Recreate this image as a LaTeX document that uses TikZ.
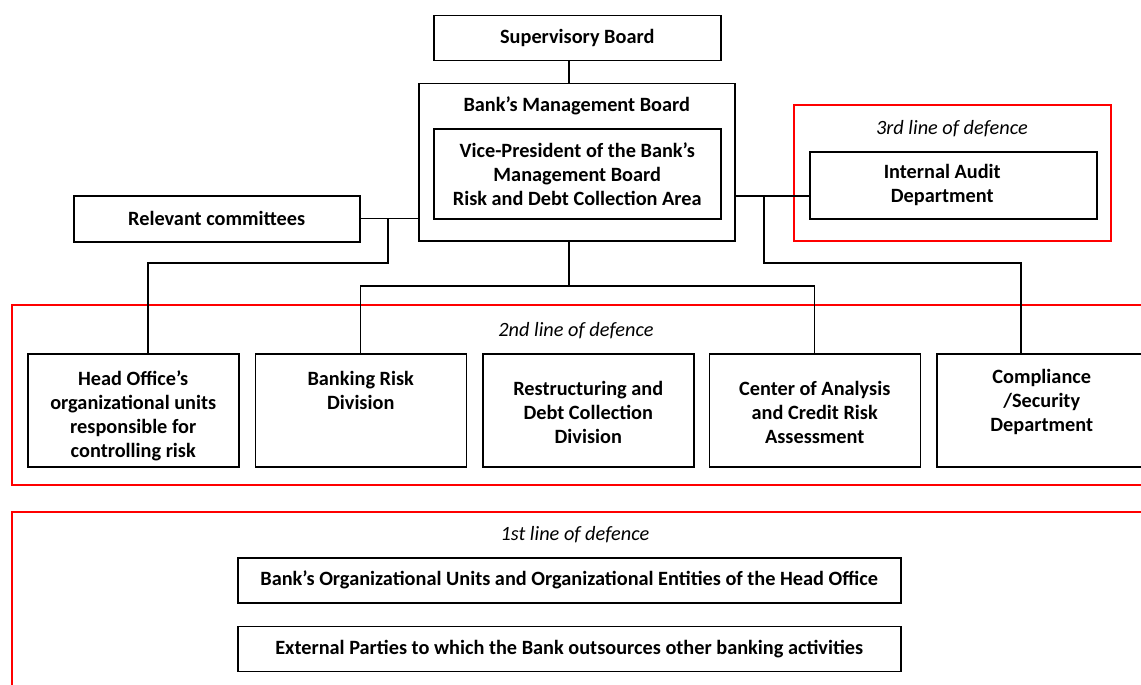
\documentclass[tikz,border=0pt]{standalone}
\usepackage{fontspec}
\setmainfont{Carlito}
\usetikzlibrary{positioning,calc}
\newcommand\boxfont{\bfseries\fontsize{20.3}{24}\selectfont}
\newcommand\defencefont{\itshape\fontsize{20.3}{24}\selectfont}

\begin{document}
\begin{tikzpicture}[x=1pt,y=1pt,
    unitbox/.style={rectangle, draw, line width=1.5pt, inner sep=0pt, align=center, font=\boxfont},
    boxtext/.style={inner sep=0pt, align=center, font=\boxfont},
    redframe/.style={draw=red, line width=1.4pt},
    defence/.style={inner sep=0pt, font=\defencefont},
    conn/.style={line width=1.4pt}]
        \clip (0,0) rectangle (1141,-685);
        % Lines of defence
        \draw[redframe] (12,-305) rectangle (1160,-485);
        \draw[redframe] (12,-512) rectangle (1160,-700);
        \draw[redframe] (794,-105) rectangle (1111,-241);
        \node[defence] (third) at (952,-129) {3rd line of defence};
        \node[defence] (second) at (576,-331) {2nd line of defence};
        \node[defence] (first) at (575,-535) {1st line of defence};

        % Top of the structure
        \node[unitbox, anchor=north west, minimum width=287pt, minimum height=45pt] (sboard) at (433,-15) {Supervisory Board};
        \node[unitbox, anchor=north west, minimum width=316pt, minimum height=157pt] (mboard) at (418,-83) {};
        \node[boxtext, below=14pt of mboard.north] (mboardtext) {Bank’s Management Board};
        \node[unitbox, anchor=north west, minimum width=287pt, minimum height=90pt] (vp) at (433,-128) {Vice-President of the Bank’s\\Management Board\\Risk and Debt Collection Area};
        \node[unitbox, anchor=north west, minimum width=286pt, minimum height=46pt] (committees) at (73,-195) {Relevant committees};
        \node[unitbox, anchor=north west, minimum width=287pt, minimum height=67pt] (audit) at (809,-151) {};
        \node[boxtext, xshift=-11pt] (audittext) at (audit.center) {Internal Audit\\Department};

        % 2nd line units
        \node[unitbox, anchor=north west, minimum width=211pt, minimum height=113pt] (headoffice) at (27,-353) {};
        \node[unitbox, right=15pt of headoffice, minimum width=211pt, minimum height=113pt] (banking) {};
        \node[unitbox, right=15pt of banking, minimum width=211pt, minimum height=113pt] (restructuring) {};
        \node[unitbox, right=14pt of restructuring, minimum width=211pt, minimum height=113pt] (centre) {};
        \node[unitbox, right=15pt of centre, minimum width=210pt, minimum height=113pt] (compliance) {};
        \node[boxtext, below=18pt of headoffice.north] (headofficetext) {Head Office’s\\organizational units\\responsible for\\controlling risk};
        \node[boxtext, below=18pt of banking.north] (bankingtext) {Banking Risk\\Division};
        \node[boxtext, below=28pt of restructuring.north] (restructuringtext) {Restructuring and\\Debt Collection\\Division};
        \node[boxtext, below=28pt of centre.north] (centretext) {Center of Analysis\\and Credit Risk\\Assessment};
        \node[boxtext, below=16pt of compliance.north] (compliancetext) {Compliance\\/Security\\Department};

        % 1st line units
        \node[unitbox, anchor=north west, minimum width=663pt, minimum height=45pt] (units) at (237,-557) {Bank’s Organizational Units and Organizational Entities of the Head Office};
        \node[unitbox, below=22pt of units, minimum width=663pt, minimum height=45pt] (external) {External Parties to which the Bank outsources other banking activities};

        % Connectors
        \coordinate (spine) at (569,0);
        \coordinate (cbranch) at (388,-218);
        \coordinate (hjoin) at (148,-263);
        \coordinate (bus) at (569,-286);
        \coordinate (rbranch) at (764,-196);
        \coordinate (cjoin) at (1021,-263);
        \draw[conn] (sboard.south -| spine) -- (mboard.north -| spine);
        \draw[conn] (committees.east) -- (committees.east -| mboard.west);
        \draw[conn] (cbranch) |- (hjoin) -- (hjoin |- headoffice.north);
        \draw[conn] (mboard.south -| spine) -- (bus);
        \draw[conn] (banking.north) |- (bus) -| (centre.north);
        \draw[conn] (rbranch -| mboard.east) -- (rbranch -| audit.west);
        \draw[conn] (rbranch) |- (cjoin) -- (cjoin |- compliance.north);
\end{tikzpicture}
\end{document}
